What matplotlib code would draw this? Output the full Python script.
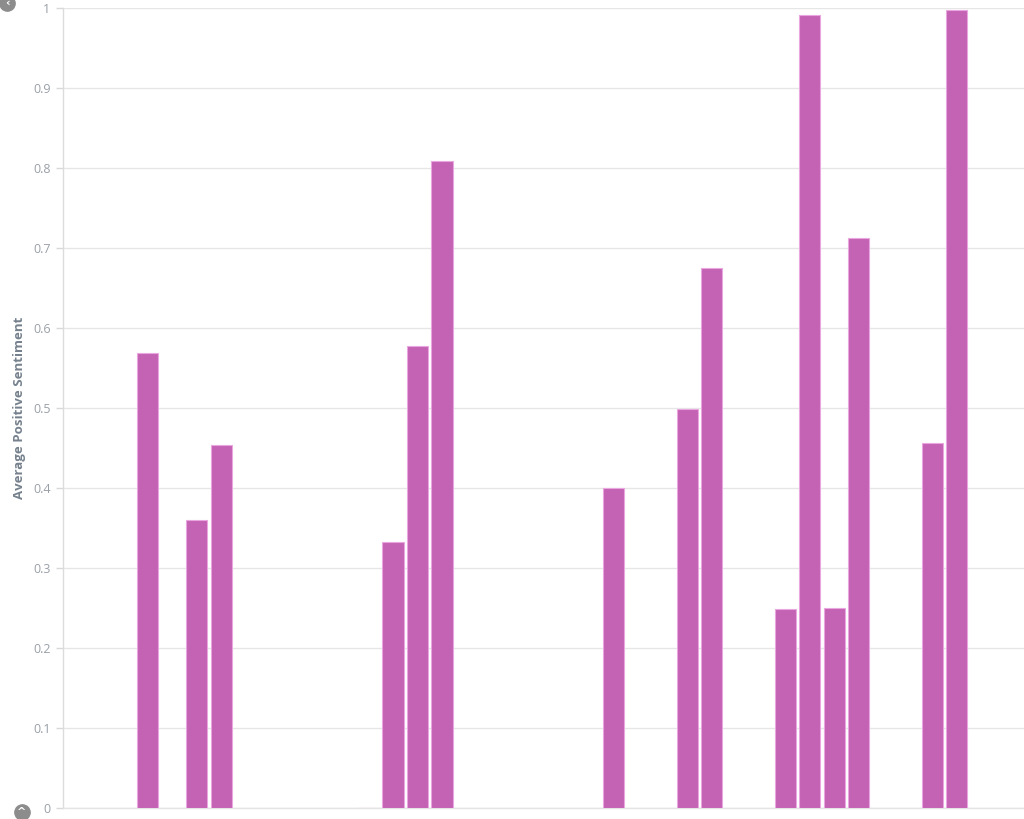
import matplotlib.pyplot as plt
from matplotlib.lines import Line2D

plt.rcParams['font.family'] = ['Open Sans', 'DejaVu Sans']

# slot index of each bar and its average positive sentiment
slots = [0, 2, 3, 9, 10, 11, 12, 19, 22, 23, 26, 27, 28, 29, 32, 33]
values = [0.569, 0.36, 0.454, 0.0005, 0.3325, 0.577, 0.809, 0.40,
          0.499, 0.675, 0.249, 0.991, 0.25, 0.7125, 0.456, 0.998]
yticks = [0, 0.1, 0.2, 0.3, 0.4, 0.5, 0.6, 0.7, 0.8, 0.9, 1]
ytick_labels = ['0', '0.1', '0.2', '0.3', '0.4', '0.5', '0.6', '0.7', '0.8', '0.9', '1']

W, H = 1024, 819
fig = plt.figure(figsize=(W / 100, H / 100), dpi=100)
ax = fig.add_axes([63 / W, 11 / H, (W - 63) / W, 800 / H])

ax.bar(slots, values, width=0.86, color='#c462b4', edgecolor='#e9a6df',
       linewidth=0.8, zorder=3)

ax.set_xlim(-3.46, 35.74)
ax.set_ylim(0, 1)
ax.set_yticks(yticks)
ax.set_yticklabels(ytick_labels)
ax.set_xticks([])
ax.grid(axis='y', color='#e6e6e6', linewidth=1, zorder=0)
ax.tick_params(axis='y', length=5, width=1, color='#d8d8d8',
               labelcolor='#9aa0a8', labelsize=9, pad=4)
for s in ['top', 'right']:
    ax.spines[s].set_visible(False)
ax.spines['left'].set_color('#dcdcdc')
ax.spines['bottom'].set_color('#e4e4e4')
ax.spines['left'].set_linewidth(1)
ax.spines['bottom'].set_linewidth(1)

fig.text(20 / W, 1 - 408 / H, 'Average Positive Sentiment', rotation=90,
         ha='center', va='center', fontsize=9.5, fontweight='bold',
         color='#75818d')

# little navigation icons in the corners
for cx, cy, ch in [(7, 3, '‹'), (22, 812, '^')]:
    fig.add_artist(Line2D([cx / W], [1 - cy / H], marker='o', markersize=11,
                          color='#8c8c8c', transform=fig.transFigure))
    fig.text(cx / W, 1 - cy / H, ch, ha='center', va='center', fontsize=8,
             color='white', fontweight='bold', family='DejaVu Sans')

fig.savefig('out.png', dpi=100)
